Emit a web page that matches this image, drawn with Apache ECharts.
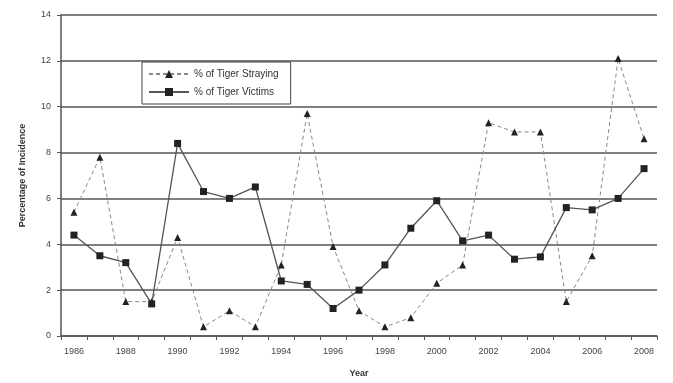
<!DOCTYPE html>
<html>
<head>
<meta charset="utf-8">
<script src="https://cdn.jsdelivr.net/npm/echarts@6/dist/echarts.min.js"></script>
<style>
  html, body { margin: 0; padding: 0; background: #fff; }
  #chart { width: 673px; height: 383px; }
</style>
</head>
<body>
<div id="chart"></div>
<script>
// Years of record
const years = ['1986','1987','1988','1989','1990','1991','1992','1993','1994','1995','1996','1997',
               '1998','1999','2000','2001','2002','2003','2004','2005','2006','2007','2008'];

// Share of incidents involving tigers straying out of the forest (%)
const straying = [5.4, 7.8, 1.5, 1.5, 4.3, 0.4, 1.1, 0.4, 3.1, 9.7, 3.9, 1.1,
                  0.4, 0.8, 2.3, 3.1, 9.3, 8.9, 8.9, 1.5, 3.5, 12.1, 8.6];

// Share of incidents where the tiger was the victim (%)
const victims = [4.4, 3.5, 3.2, 1.4, 8.4, 6.3, 6.0, 6.5, 2.4, 2.25, 1.2, 2.0,
                 3.1, 4.7, 5.9, 4.15, 4.4, 3.35, 3.45, 5.6, 5.5, 6.0, 7.3];

const seriesNames = ['% of Tiger Straying', '% of Tiger Victims'];

const chart = echarts.init(document.getElementById('chart'), null, { renderer: 'canvas' });

chart.setOption({
  animation: false,
  backgroundColor: '#ffffff',
  textStyle: { fontFamily: 'Liberation Sans, Arial, sans-serif', color: '#333' },
  grid: { left: 61, right: 16, top: 15, bottom: 45 },
  legend: {
    orient: 'vertical',
    left: 142,
    top: 62,
    width: 151,
    padding: [7, 12, 7, 6],
    itemGap: 8,
    itemWidth: 40,
    itemHeight: 10,
    borderColor: '#444',
    borderWidth: 1,
    backgroundColor: '#fff',
    textStyle: { fontSize: 10, color: '#333', fontFamily: 'Liberation Sans, Arial, sans-serif' },
    data: seriesNames
  },
  xAxis: {
    type: 'category',
    data: years,
    boundaryGap: true,
    name: 'Year',
    nameLocation: 'middle',
    nameGap: 33,
    nameTextStyle: { fontSize: 9, fontWeight: 'bold', color: '#333' },
    axisLine: { lineStyle: { color: '#555', width: 1.5 } },
    axisTick: { show: true, interval: 0, length: 4, lineStyle: { color: '#555' } },
    axisLabel: { interval: 1, fontSize: 9, color: '#444', margin: 11 },
    splitLine: { show: false }
  },
  yAxis: {
    type: 'value',
    min: 0,
    max: 14,
    interval: 2,
    name: 'Percentage of Incidence',
    nameLocation: 'middle',
    nameGap: 34,
    nameTextStyle: { fontSize: 9, fontWeight: 'bold', color: '#333' },
    axisLine: { show: true, lineStyle: { color: '#555', width: 1.5 } },
    axisTick: { show: true, length: 4, lineStyle: { color: '#555' } },
    axisLabel: { fontSize: 9, color: '#444', margin: 10 },
    splitLine: { show: true, lineStyle: { color: '#555', width: 1.5 } }
  },
  series: [
    {
      name: seriesNames[0],
      type: 'line',
      data: straying,
      symbol: 'triangle',
      symbolSize: 7,
      lineStyle: { color: '#888', width: 1, type: [4, 3] },
      itemStyle: { color: '#222' }
    },
    {
      name: seriesNames[1],
      type: 'line',
      data: victims,
      symbol: 'rect',
      symbolSize: 7,
      lineStyle: { color: '#555', width: 1.3 },
      itemStyle: { color: '#222' }
    }
  ]
});
</script>
</body>
</html>
